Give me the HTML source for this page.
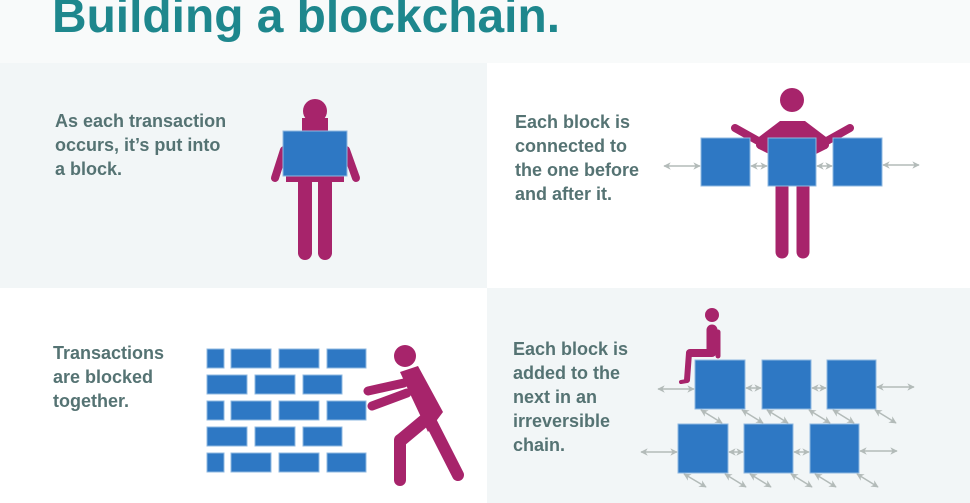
<!DOCTYPE html>
<html><head><meta charset="utf-8"><style>
html,body{margin:0;padding:0;width:970px;height:503px;overflow:hidden;background:#fff}
svg{display:block}
text{font-family:"Liberation Sans",sans-serif}
.t{font-size:18px;font-weight:bold;fill:#557373}
</style></head><body>
<svg width="970" height="503" viewBox="0 0 970 503">
<defs>
<marker id="a" viewBox="0 0 10 10" refX="9" refY="5" markerWidth="5" markerHeight="5" orient="auto-start-reverse"><path d="M0,0 L10,5 L0,10 L3,5 Z" fill="#b3bbb9"/></marker>
</defs>
<rect x="0" y="0" width="970" height="63" fill="#f8fafa"/>
<rect x="0" y="63" width="487" height="225" fill="#f2f6f7"/>
<rect x="487" y="63" width="483" height="225" fill="#fff"/>
<rect x="0" y="288" width="487" height="215" fill="#fff"/>
<rect x="487" y="288" width="483" height="215" fill="#f2f6f7"/>
<text x="52" y="32" font-size="48" font-weight="bold" fill="#1e878d" textLength="508" lengthAdjust="spacingAndGlyphs">Building a blockchain.</text>

<text class="t" x="55" y="127">As each transaction</text>
<text class="t" x="55" y="151">occurs, it’s put into</text>
<text class="t" x="55" y="175">a block.</text>
<text class="t" x="515" y="128">Each block is</text>
<text class="t" x="515" y="152">connected to</text>
<text class="t" x="515" y="176">the one before</text>
<text class="t" x="515" y="200">and after it.</text>
<text class="t" x="53" y="359">Transactions</text>
<text class="t" x="53" y="383">are blocked</text>
<text class="t" x="53" y="407">together.</text>
<text class="t" x="513" y="355">Each block is</text>
<text class="t" x="513" y="379">added to the</text>
<text class="t" x="513" y="403">next in an</text>
<text class="t" x="513" y="427">irreversible</text>
<text class="t" x="513" y="451">chain.</text>

<!-- top-left person -->
<g fill="#a7246b" stroke="#a7246b" stroke-linecap="round">
<circle cx="315" cy="111" r="12" stroke="none"/>
<rect x="302" y="118" width="26" height="15" stroke="none"/>
<rect x="286" y="140" width="58" height="42" stroke="none"/>
<line x1="284" y1="150" x2="275" y2="178" stroke-width="8"/>
<line x1="346" y1="150" x2="356" y2="178" stroke-width="8"/>
<line x1="305" y1="180" x2="305" y2="253" stroke-width="14"/>
<line x1="325" y1="180" x2="325" y2="253" stroke-width="14"/>
</g>
<rect x="283" y="131" width="64" height="45" fill="#2e78c4" stroke="#8fb8e0" stroke-width="1"/>

<!-- top-right -->
<g fill="#a7246b" stroke="#a7246b" stroke-linecap="round">
<circle cx="792" cy="100" r="12" stroke="none"/>
<polygon points="780,121 805,121 830,140 812,150 775,150 755,140" stroke="none"/>
<line x1="735" y1="128" x2="760" y2="142" stroke-width="8"/>
<line x1="850" y1="128" x2="825" y2="142" stroke-width="8"/>
<line x1="760" y1="145" x2="770" y2="150" stroke-width="8"/>
<line x1="825" y1="145" x2="815" y2="150" stroke-width="8"/>
<line x1="782" y1="185" x2="782" y2="252" stroke-width="13"/>
<line x1="803" y1="185" x2="803" y2="252" stroke-width="13"/>
</g>
<g fill="#2e78c4" stroke="#8fb8e0" stroke-width="1">
<rect x="701" y="138" width="49" height="48"/><rect x="768" y="138" width="48" height="48"/><rect x="833" y="138" width="49" height="48"/>
</g>
<g stroke="#b3bbb9" stroke-width="1.5" marker-start="url(#a)" marker-end="url(#a)">
<line x1="664" y1="166" x2="700" y2="166"/><line x1="751" y1="166" x2="767" y2="166"/><line x1="817" y1="166" x2="832" y2="166"/><line x1="883" y1="165" x2="919" y2="165"/>
</g>

<!-- bricks -->
<g fill="#2e78c4" stroke="#8fb8e0" stroke-width="1">
<rect x="207" y="349" width="17" height="19"/><rect x="231" y="349" width="40" height="19"/><rect x="279" y="349" width="40" height="19"/><rect x="327" y="349" width="39" height="19"/>
<rect x="207" y="375" width="40" height="19"/><rect x="255" y="375" width="40" height="19"/><rect x="303" y="375" width="39" height="19"/>
<rect x="207" y="401" width="17" height="19"/><rect x="231" y="401" width="40" height="19"/><rect x="279" y="401" width="40" height="19"/><rect x="327" y="401" width="39" height="19"/>
<rect x="207" y="427" width="40" height="19"/><rect x="255" y="427" width="40" height="19"/><rect x="303" y="427" width="39" height="19"/>
<rect x="207" y="453" width="17" height="19"/><rect x="231" y="453" width="40" height="19"/><rect x="279" y="453" width="40" height="19"/><rect x="327" y="453" width="39" height="19"/>
</g>
<g fill="#a7246b" stroke="#a7246b" stroke-linecap="round" stroke-linejoin="round">
<circle cx="405" cy="356" r="11" stroke="none"/>
<polygon points="400,372 418,366 443,412 428,432 412,398" stroke="none"/>
<line x1="404" y1="383" x2="368" y2="391" stroke-width="9"/>
<line x1="407" y1="393" x2="372" y2="406" stroke-width="9"/>
<line x1="425" y1="420" x2="401" y2="440" stroke-width="13"/>
<line x1="400" y1="440" x2="400" y2="480" stroke-width="12"/>
<line x1="430" y1="420" x2="458" y2="475" stroke-width="12"/>
</g>

<!-- bottom-right -->
<g fill="#a7246b" stroke="#a7246b" stroke-linecap="round" stroke-linejoin="round">
<circle cx="712" cy="315" r="7" stroke="none"/>
<line x1="712" y1="330" x2="712" y2="351" stroke-width="11"/>
<line x1="718" y1="332" x2="718" y2="356" stroke-width="5"/>
<line x1="712" y1="353" x2="690" y2="353" stroke-width="8"/>
<line x1="689" y1="353" x2="687" y2="380" stroke-width="6"/>
<line x1="687" y1="381" x2="681" y2="382" stroke-width="4"/>
</g>
<g fill="#2e78c4" stroke="#8fb8e0" stroke-width="1">
<rect x="695" y="360" width="50" height="49"/><rect x="762" y="360" width="49" height="49"/><rect x="827" y="360" width="49" height="49"/>
<rect x="678" y="424" width="50" height="49"/><rect x="744" y="424" width="49" height="49"/><rect x="810" y="424" width="49" height="49"/>
</g>
<g stroke="#b3bbb9" stroke-width="1.5" marker-start="url(#a)" marker-end="url(#a)">
<line x1="658" y1="389" x2="694" y2="389"/><line x1="746" y1="388" x2="761" y2="388"/><line x1="812" y1="388" x2="826" y2="388"/><line x1="877" y1="387" x2="914" y2="387"/>
<line x1="641" y1="452" x2="677" y2="452"/><line x1="729" y1="452" x2="743" y2="452"/><line x1="794" y1="452" x2="809" y2="452"/><line x1="860" y1="451" x2="897" y2="451"/>
<line x1="701" y1="410" x2="722" y2="423"/><line x1="742" y1="410" x2="763" y2="423"/><line x1="767" y1="410" x2="788" y2="423"/><line x1="809" y1="410" x2="830" y2="423"/><line x1="833" y1="410" x2="854" y2="423"/><line x1="875" y1="410" x2="896" y2="423"/>
<line x1="684" y1="474" x2="706" y2="487"/><line x1="725" y1="474" x2="746" y2="487"/><line x1="750" y1="474" x2="771" y2="487"/><line x1="791" y1="474" x2="812" y2="487"/><line x1="815" y1="474" x2="836" y2="487"/><line x1="857" y1="474" x2="878" y2="487"/>
</g>
</svg>
</body></html>
